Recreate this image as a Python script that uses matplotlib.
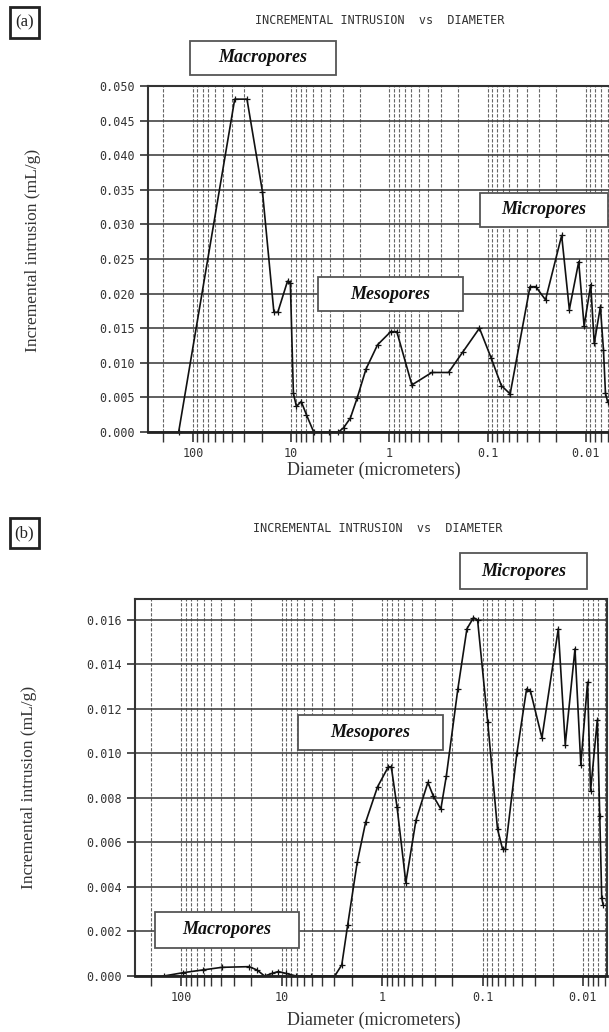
import numpy as np
import matplotlib
matplotlib.use("Agg")
import matplotlib.pyplot as plt
from matplotlib.patches import Rectangle
from matplotlib.ticker import FixedLocator, LogLocator, NullFormatter

# ---- data ----
# panel (a)
diam_a = [140, 37.6, 28.2, 19.6, 15.0, 13.7, 10.9, 10.2, 9.5, 8.85, 7.9, 7.0,
          5.9, 4.1, 3.3, 2.93, 2.5, 2.13, 1.73, 1.32, 0.97, 0.84, 0.59, 0.37,
          0.25, 0.178, 0.121, 0.092, 0.0724, 0.0589, 0.037, 0.0323, 0.0257,
          0.0176, 0.0147, 0.0118, 0.0104, 0.0089, 0.0082, 0.0071, 0.0066,
          0.0063, 0.006]
intr_a = [0.0, 0.0481, 0.0481, 0.0347, 0.0173, 0.0173, 0.0218, 0.0215, 0.0056,
          0.0037, 0.0044, 0.0025, 0.0, 0.0, 0.0, 0.0006, 0.0020, 0.0049,
          0.0091, 0.0126, 0.0145, 0.0145, 0.0068, 0.0086, 0.0086, 0.0116,
          0.0150, 0.0107, 0.0067, 0.0055, 0.0210, 0.0210, 0.0191, 0.0284,
          0.0177, 0.0246, 0.0153, 0.0213, 0.0128, 0.0181, 0.0118, 0.0056,
          0.0044]

# panel (b)
diam_b = [149, 95.6, 61.4, 39.3, 21.1, 17.6, 14.8, 12.4, 10.8, 9.1, 7.2, 5.07,
          2.96, 2.52, 2.2, 1.77, 1.46, 1.11, 0.867, 0.81, 0.71, 0.58, 0.46,
          0.35, 0.31, 0.26, 0.229, 0.176, 0.143, 0.123, 0.112, 0.0887, 0.0709,
          0.0631, 0.0591, 0.0455, 0.0364, 0.0333, 0.0256, 0.0176, 0.0150,
          0.0120, 0.0105, 0.0090, 0.0084, 0.0072, 0.0068, 0.0065, 0.0063]
intr_b = [0.0, 0.00015, 0.00027, 0.00039, 0.00042, 0.00027, 0.0, 0.00012,
          0.0002, 0.00012, 0.0, 0.0, 0.0, 0.0005, 0.0023, 0.0051, 0.0069,
          0.0085, 0.0094, 0.0094, 0.0076, 0.0042, 0.0070, 0.0087, 0.0081,
          0.0075, 0.0090, 0.0129, 0.0156, 0.0161, 0.0160, 0.0114, 0.0066,
          0.0057, 0.0057, 0.0100, 0.0129, 0.0128, 0.0107, 0.0156, 0.0104,
          0.0147, 0.0095, 0.0132, 0.0083, 0.0115, 0.0072, 0.0035, 0.0032]

x_major = [100, 10, 1, 0.1, 0.01]
x_major_labels = ["100", "10", "1", "0.1", "0.01"]
yticks_a = np.arange(0, 0.0501, 0.005)
yticks_b = np.arange(0, 0.0161, 0.002)

W, H = 609, 1032
fig = plt.figure(figsize=(W / 100, H / 100), dpi=100)

mono = "DejaVu Sans Mono"
serif = "Liberation Serif"


def fx(px):
    return px / W


def fy(py):
    return 1 - py / H


def box_label(text, x0, y0, x1, y1):
    fig.add_artist(Rectangle((fx(x0), fy(y1)), fx(x1 - x0), (y1 - y0) / H,
                             transform=fig.transFigure, facecolor="white",
                             edgecolor="#555555", lw=1.3, zorder=10))
    fig.text(fx((x0 + x1) / 2), fy((y0 + y1) / 2), text, ha="center",
             va="center", family=serif, fontsize=13, fontweight="bold",
             style="italic", color="#111111", zorder=11)


def panel_tag(text, y0, y1):
    fig.add_artist(Rectangle((fx(10), fy(y1)), fx(29), (y1 - y0) / H,
                             transform=fig.transFigure, facecolor="white",
                             edgecolor="#222222", lw=2, zorder=10))
    fig.text(fx(24.5), fy((y0 + y1) / 2), text, ha="center", va="center",
             family=serif, fontsize=12, color="#222222", zorder=11)


def setup(ax, yticks, ylim):
    ax.set_xscale("log")
    ax.set_xlim(290, 0.0058)
    ax.set_ylim(*ylim)
    ax.xaxis.set_major_locator(FixedLocator(x_major))
    ax.xaxis.set_minor_locator(LogLocator(base=10, subs=range(2, 10), numticks=20))
    ax.xaxis.set_minor_formatter(NullFormatter())
    ax.set_xticklabels(x_major_labels)
    ax.set_yticks(yticks)
    ax.set_yticklabels(["%.3f" % v for v in yticks])
    ax.grid(True, which="both", axis="x", color="#666666", lw=0.8,
            linestyle=(0, (3, 1.5)))
    ax.grid(True, which="major", axis="y", color="#444444", lw=1.2)
    ax.tick_params(axis="both", which="both", direction="out", color="#333333")
    ax.tick_params(axis="x", which="major", length=7, width=1.2, pad=4)
    ax.tick_params(axis="x", which="minor", length=7, width=1.0)
    ax.tick_params(axis="y", length=6, width=1.2, pad=3)
    for lab in ax.get_xticklabels() + ax.get_yticklabels():
        lab.set_family(mono)
        lab.set_fontsize(8.5)
        lab.set_color("#333333")
    for s in ["top", "left"]:
        ax.spines[s].set_color("#333333")
        ax.spines[s].set_linewidth(1.5)
    ax.spines["bottom"].set_color("#222222")
    ax.spines["bottom"].set_linewidth(2)
    ax.spines["right"].set_visible(False)


# ---- panel (a) ----
ax_a = fig.add_axes([fx(147.6), fy(432), 1 - fx(147.6), (432 - 86) / H])
setup(ax_a, yticks_a, (0, 0.050))
ax_a.plot(diam_a, intr_a, color="#111111", lw=1.2, marker="+", ms=4,
          mew=0.9, clip_on=False)

# ---- panel (b) ----
ax_b = fig.add_axes([fx(134.8), fy(976), fx(606.7 - 134.8), (976 - 599) / H])
setup(ax_b, yticks_b, (0, 0.01694))
ax_b.spines["right"].set_visible(True)
ax_b.spines["right"].set_color("#333333")
ax_b.spines["right"].set_linewidth(1.5)
ax_b.plot(diam_b, intr_b, color="#111111", lw=1.2, marker="+", ms=4,
          mew=0.9)

# titles, axis labels
title = "INCREMENTAL INTRUSION  vs  DIAMETER"
fig.text(fx(380), fy(21), title, ha="center", va="center", family=mono,
         fontsize=8.5, color="#333333")
fig.text(fx(378), fy(528), title, ha="center", va="center", family=mono,
         fontsize=8.5, color="#333333")

fig.text(fx(374), fy(470), "Diameter (micrometers)", ha="center", va="center",
         family=serif, fontsize=13, color="#333333")
fig.text(fx(374), fy(1020), "Diameter (micrometers)", ha="center", va="center",
         family=serif, fontsize=13, color="#333333")
fig.text(fx(33), fy(250), "Incremental intrusion (mL/g)", ha="center",
         va="center", rotation=90, family=serif, fontsize=12.5, color="#333333")
fig.text(fx(29), fy(787), "Incremental intrusion (mL/g)", ha="center",
         va="center", rotation=90, family=serif, fontsize=12.5, color="#333333")

# annotation boxes
box_label("Macropores", 190, 41, 336, 75)
box_label("Mesopores", 318, 277, 463, 311)
box_label("Micropores", 480, 193, 608, 227)
box_label("Micropores", 460, 553, 587, 589)
box_label("Mesopores", 298, 715, 443, 750)
box_label("Macropores", 155, 912, 299, 948)

panel_tag("(a)", 7, 38)
panel_tag("(b)", 518, 548)

fig.savefig("out.png", dpi=100)
